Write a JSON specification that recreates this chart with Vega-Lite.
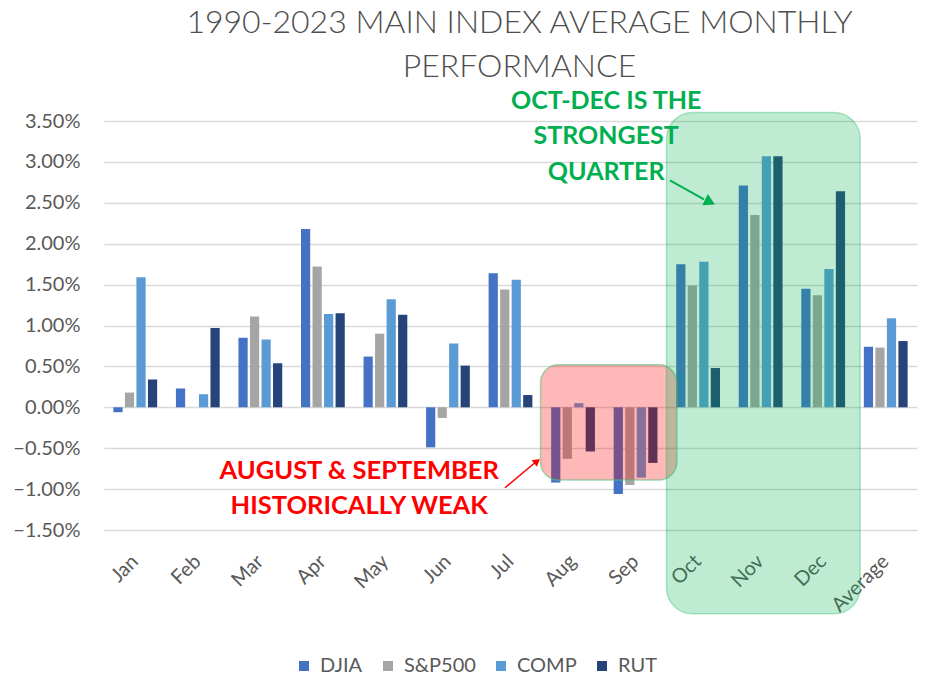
{
  "$schema": "https://vega.github.io/schema/vega-lite/v6.json",
  "width": 813,
  "height": 409,
  "autosize": {"type": "none"},
  "padding": {"left": 104, "top": 121, "right": 11, "bottom": 159},
  "background": "white",
  "config": {
    "view": {"stroke": null},
    "font": "Lato",
    "axis": {"labelFont": "Lato", "labelColor": "#595959", "labelFontSize": 20}
  },
  "title": {
    "text": ["1990-2023 MAIN INDEX AVERAGE MONTHLY", "PERFORMANCE"],
    "anchor": "middle",
    "font": "Lato",
    "fontWeight": 300,
    "fontSize": 32,
    "color": "#4d4d4d",
    "lineHeight": 44,
    "offset": 5,
    "dx": 9
  },
  "datasets": {
    "bars": [
      {"month": "Jan", "index": "DJIA", "value": -0.0006},
      {"month": "Jan", "index": "S&P500", "value": 0.0018},
      {"month": "Jan", "index": "COMP", "value": 0.0159},
      {"month": "Jan", "index": "RUT", "value": 0.0034},
      {"month": "Feb", "index": "DJIA", "value": 0.0023},
      {"month": "Feb", "index": "S&P500", "value": 0.0},
      {"month": "Feb", "index": "COMP", "value": 0.0016},
      {"month": "Feb", "index": "RUT", "value": 0.0097},
      {"month": "Mar", "index": "DJIA", "value": 0.0085},
      {"month": "Mar", "index": "S&P500", "value": 0.0111},
      {"month": "Mar", "index": "COMP", "value": 0.0083},
      {"month": "Mar", "index": "RUT", "value": 0.0054},
      {"month": "Apr", "index": "DJIA", "value": 0.0218},
      {"month": "Apr", "index": "S&P500", "value": 0.0172},
      {"month": "Apr", "index": "COMP", "value": 0.0114},
      {"month": "Apr", "index": "RUT", "value": 0.0115},
      {"month": "May", "index": "DJIA", "value": 0.0062},
      {"month": "May", "index": "S&P500", "value": 0.0090},
      {"month": "May", "index": "COMP", "value": 0.0132},
      {"month": "May", "index": "RUT", "value": 0.0113},
      {"month": "Jun", "index": "DJIA", "value": -0.0049},
      {"month": "Jun", "index": "S&P500", "value": -0.0013},
      {"month": "Jun", "index": "COMP", "value": 0.0078},
      {"month": "Jun", "index": "RUT", "value": 0.0051},
      {"month": "Jul", "index": "DJIA", "value": 0.0164},
      {"month": "Jul", "index": "S&P500", "value": 0.0144},
      {"month": "Jul", "index": "COMP", "value": 0.0156},
      {"month": "Jul", "index": "RUT", "value": 0.0015},
      {"month": "Aug", "index": "DJIA", "value": -0.0092},
      {"month": "Aug", "index": "S&P500", "value": -0.0063},
      {"month": "Aug", "index": "COMP", "value": 0.0005},
      {"month": "Aug", "index": "RUT", "value": -0.0054},
      {"month": "Sep", "index": "DJIA", "value": -0.0106},
      {"month": "Sep", "index": "S&P500", "value": -0.0095},
      {"month": "Sep", "index": "COMP", "value": -0.0086},
      {"month": "Sep", "index": "RUT", "value": -0.0068},
      {"month": "Oct", "index": "DJIA", "value": 0.0175},
      {"month": "Oct", "index": "S&P500", "value": 0.0149},
      {"month": "Oct", "index": "COMP", "value": 0.0178},
      {"month": "Oct", "index": "RUT", "value": 0.0048},
      {"month": "Nov", "index": "DJIA", "value": 0.0271},
      {"month": "Nov", "index": "S&P500", "value": 0.0235},
      {"month": "Nov", "index": "COMP", "value": 0.0307},
      {"month": "Nov", "index": "RUT", "value": 0.0307},
      {"month": "Dec", "index": "DJIA", "value": 0.0145},
      {"month": "Dec", "index": "S&P500", "value": 0.0137},
      {"month": "Dec", "index": "COMP", "value": 0.0169},
      {"month": "Dec", "index": "RUT", "value": 0.0264},
      {"month": "Average", "index": "DJIA", "value": 0.0074},
      {"month": "Average", "index": "S&P500", "value": 0.0073},
      {"month": "Average", "index": "COMP", "value": 0.0109},
      {"month": "Average", "index": "RUT", "value": 0.0081}
    ],
    "greenBox": [{"x1": 8.995, "x2": 12.09, "y1": 0.03603, "y2": -0.02525}],
    "redBox": [{"x1": 6.98, "x2": 9.16, "y1": 0.00519, "y2": -0.00889}],
    "greenText": [
      {"x": 8.03, "y": 0.03742, "text": "OCT-DEC IS THE"},
      {"x": 8.03, "y": 0.03313, "text": "STRONGEST"},
      {"x": 8.03, "y": 0.02872, "text": "QUARTER"}
    ],
    "redText": [
      {"x": 4.08, "y": -0.00775, "text": "AUGUST & SEPTEMBER"},
      {"x": 4.08, "y": -0.01203, "text": "HISTORICALLY WEAK"}
    ],
    "greenArrow": [{"x1": 9.05, "y1": 0.02775, "x2": 9.594, "y2": 0.02543, "hx": 9.69, "hy": 0.02509}],
    "redArrow": [{"x1": 6.412, "y1": -0.00983, "x2": 6.89, "y2": -0.00678, "hx": 6.924, "hy": -0.00659}]
  },
  "layer": [
    {
      "data": {"name": "bars"},
      "mark": {"type": "bar"},
      "encoding": {
        "x": {
          "field": "month",
          "type": "nominal",
          "sort": ["Jan", "Feb", "Mar", "Apr", "May", "Jun", "Jul", "Aug", "Sep", "Oct", "Nov", "Dec", "Average"],
          "scale": {"paddingInner": 0.3, "paddingOuter": 0.15},
          "axis": {
            "title": null,
            "labelAngle": -45,
            "labelAlign": "right",
            "labelBaseline": "middle",
            "labelPadding": 28,
            "ticks": false,
            "domain": false,
            "grid": false
          }
        },
        "xOffset": {
          "field": "index",
          "type": "nominal",
          "sort": ["DJIA", "S&P500", "COMP", "RUT"],
          "scale": {"paddingInner": 0.2, "paddingOuter": 0}
        },
        "y": {
          "field": "value",
          "type": "quantitative",
          "scale": {"domain": [-0.015, 0.035], "nice": false, "zero": false},
          "axis": {
            "title": null,
            "format": ".2%",
            "values": [-0.015, -0.01, -0.005, 0, 0.005, 0.01, 0.015, 0.02, 0.025, 0.03, 0.035],
            "ticks": false,
            "domain": false,
            "labelPadding": 24,
            "gridColor": "#d9d9d9",
            "gridWidth": 1.5
          }
        },
        "color": {
          "field": "index",
          "type": "nominal",
          "scale": {"domain": ["DJIA", "S&P500", "COMP", "RUT"], "range": ["#4472C4", "#A5A5A5", "#5B9BD5", "#264478"]},
          "legend": {
            "title": null,
            "orient": "none",
            "legendX": 190,
            "legendY": 535,
            "direction": "horizontal",
            "symbolType": "square",
            "symbolSize": 100,
            "symbolStrokeWidth": 0,
            "labelFont": "Lato",
            "labelFontSize": 20,
            "labelColor": "#595959",
            "columnPadding": 15,
            "labelOffset": 6
          }
        }
      }
    },
    {
      "layer": [
        {
          "data": {"name": "redBox"},
          "mark": {"type": "rect", "fill": "#FF0000", "fillOpacity": 0.28, "stroke": "#5fbf7f", "strokeOpacity": 0.6, "strokeWidth": 1.5, "cornerRadius": 18},
          "encoding": {
            "x": {"field": "x1", "type": "quantitative", "scale": {"domain": [0, 13], "nice": false, "zero": false}, "axis": null},
            "x2": {"field": "x2"},
            "y": {"field": "y1", "type": "quantitative", "axis": {"title": null, "format": ".2%", "values": [-0.015, -0.01, -0.005, 0, 0.005, 0.01, 0.015, 0.02, 0.025, 0.03, 0.035], "ticks": false, "domain": false, "labelPadding": 24, "gridColor": "#d9d9d9", "gridWidth": 1.5}},
            "y2": {"field": "y2"}
          }
        },
        {
          "data": {"name": "greenBox"},
          "mark": {"type": "rect", "fill": "#00B050", "fillOpacity": 0.25, "stroke": "#00B050", "strokeOpacity": 0.3, "strokeWidth": 1.5, "cornerRadius": 26},
          "encoding": {
            "x": {"field": "x1", "type": "quantitative", "axis": null},
            "x2": {"field": "x2"},
            "y": {"field": "y1", "type": "quantitative", "axis": {"title": null, "format": ".2%", "values": [-0.015, -0.01, -0.005, 0, 0.005, 0.01, 0.015, 0.02, 0.025, 0.03, 0.035], "ticks": false, "domain": false, "labelPadding": 24, "gridColor": "#d9d9d9", "gridWidth": 1.5}},
            "y2": {"field": "y2"}
          }
        },
        {
          "data": {"name": "greenText"},
          "mark": {"type": "text", "font": "Lato", "fontWeight": "bold", "fontSize": 25, "color": "#00B050", "align": "center", "baseline": "middle"},
          "encoding": {
            "x": {"field": "x", "type": "quantitative", "axis": null},
            "y": {"field": "y", "type": "quantitative", "axis": {"title": null, "format": ".2%", "values": [-0.015, -0.01, -0.005, 0, 0.005, 0.01, 0.015, 0.02, 0.025, 0.03, 0.035], "ticks": false, "domain": false, "labelPadding": 24, "gridColor": "#d9d9d9", "gridWidth": 1.5}},
            "text": {"field": "text"}
          }
        },
        {
          "data": {"name": "redText"},
          "mark": {"type": "text", "font": "Lato", "fontWeight": "bold", "fontSize": 25.5, "color": "#FF0000", "align": "center", "baseline": "middle"},
          "encoding": {
            "x": {"field": "x", "type": "quantitative", "axis": null},
            "y": {"field": "y", "type": "quantitative", "axis": {"title": null, "format": ".2%", "values": [-0.015, -0.01, -0.005, 0, 0.005, 0.01, 0.015, 0.02, 0.025, 0.03, 0.035], "ticks": false, "domain": false, "labelPadding": 24, "gridColor": "#d9d9d9", "gridWidth": 1.5}},
            "text": {"field": "text"}
          }
        },
        {
          "data": {"name": "greenArrow"},
          "mark": {"type": "rule", "color": "#00B050", "strokeWidth": 2},
          "encoding": {
            "x": {"field": "x1", "type": "quantitative", "axis": null},
            "y": {"field": "y1", "type": "quantitative", "axis": {"title": null, "format": ".2%", "values": [-0.015, -0.01, -0.005, 0, 0.005, 0.01, 0.015, 0.02, 0.025, 0.03, 0.035], "ticks": false, "domain": false, "labelPadding": 24, "gridColor": "#d9d9d9", "gridWidth": 1.5}},
            "x2": {"field": "x2"},
            "y2": {"field": "y2"}
          }
        },
        {
          "data": {"name": "greenArrow"},
          "mark": {"type": "point", "shape": "triangle-right", "filled": true, "color": "#00B050", "opacity": 1, "size": 160, "angle": 26},
          "encoding": {
            "x": {"field": "hx", "type": "quantitative", "axis": null},
            "y": {"field": "hy", "type": "quantitative", "axis": {"title": null, "format": ".2%", "values": [-0.015, -0.01, -0.005, 0, 0.005, 0.01, 0.015, 0.02, 0.025, 0.03, 0.035], "ticks": false, "domain": false, "labelPadding": 24, "gridColor": "#d9d9d9", "gridWidth": 1.5}}
          }
        },
        {
          "data": {"name": "redArrow"},
          "mark": {"type": "rule", "color": "#FF0000", "strokeWidth": 1.5},
          "encoding": {
            "x": {"field": "x1", "type": "quantitative", "axis": null},
            "y": {"field": "y1", "type": "quantitative", "axis": {"title": null, "format": ".2%", "values": [-0.015, -0.01, -0.005, 0, 0.005, 0.01, 0.015, 0.02, 0.025, 0.03, 0.035], "ticks": false, "domain": false, "labelPadding": 24, "gridColor": "#d9d9d9", "gridWidth": 1.5}},
            "x2": {"field": "x2"},
            "y2": {"field": "y2"}
          }
        },
        {
          "data": {"name": "redArrow"},
          "mark": {"type": "point", "shape": "triangle-right", "filled": true, "color": "#FF0000", "opacity": 1, "size": 70, "angle": -40},
          "encoding": {
            "x": {"field": "hx", "type": "quantitative", "axis": null},
            "y": {"field": "hy", "type": "quantitative", "axis": {"title": null, "format": ".2%", "values": [-0.015, -0.01, -0.005, 0, 0.005, 0.01, 0.015, 0.02, 0.025, 0.03, 0.035], "ticks": false, "domain": false, "labelPadding": 24, "gridColor": "#d9d9d9", "gridWidth": 1.5}}
          }
        }
      ]
    }
  ],
  "resolve": {"scale": {"x": "independent"}}
}
